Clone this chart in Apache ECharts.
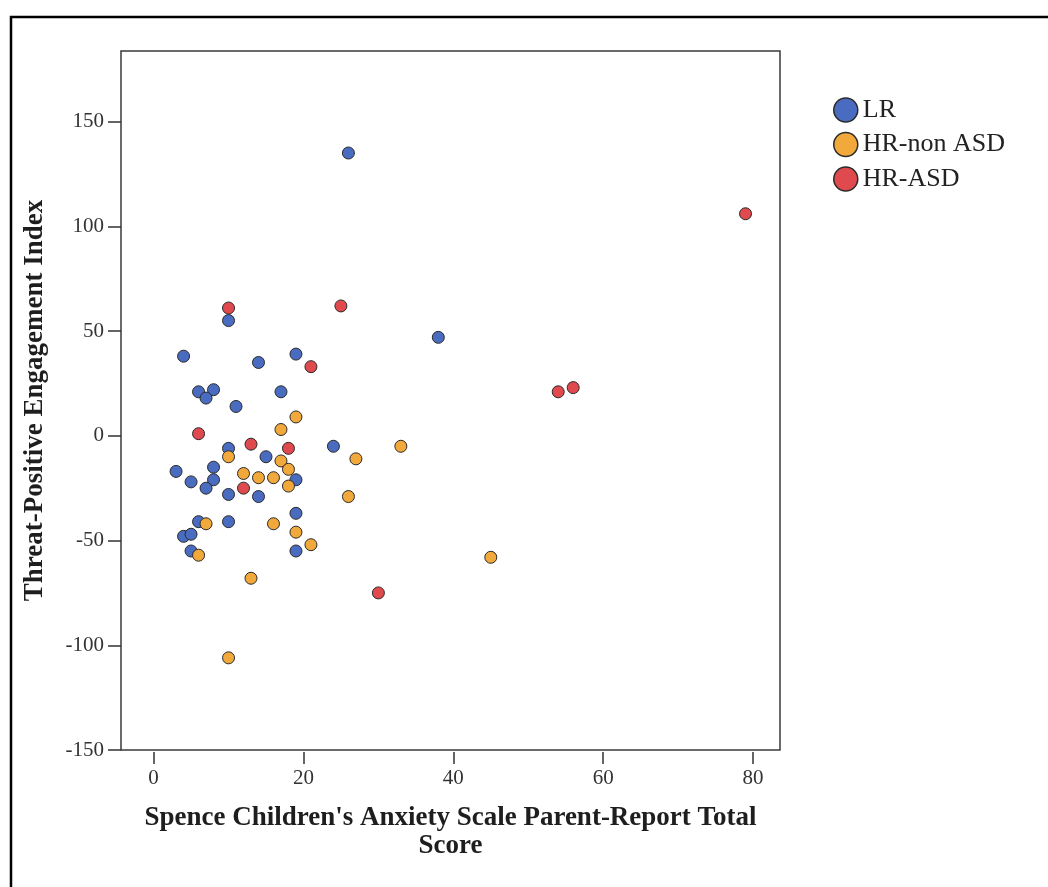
<!DOCTYPE html>
<html>
<head>
<meta charset="utf-8">
<title>Threat-Positive Engagement vs SCAS</title>
<script src="https://cdn.jsdelivr.net/npm/echarts@6/dist/echarts.min.js"></script>
<style>
  html, body { margin: 0; padding: 0; background: #fff; }
  #chart { width: 1048px; height: 887px; }
</style>
</head>
<body>
<div id="chart"></div>
<script>
// Group names as shown in the legend
const groupNames = ['LR', 'HR-non ASD', 'HR-ASD'];

// LR group: SCAS parent-report total (x) and threat-positive engagement index (y)
const lrX = [26, 38, 10, 4, 14, 19, 6, 8, 7, 17, 11, 10, 3, 8, 5, 8, 7, 10, 14, 15, 19, 24, 19, 6, 10, 4, 5, 5, 19];
const lrY = [135, 47, 55, 38, 35, 39, 21, 22, 18, 21, 14, -6, -17, -15, -22, -21, -25, -28, -29, -10, -21, -5, -37, -41, -41, -48, -47, -55, -55];

// HR-non ASD group
const hrNonX = [10, 12, 14, 19, 17, 17, 18, 16, 18, 7, 16, 19, 21, 6, 13, 10, 33, 27, 26, 45];
const hrNonY = [-10, -18, -20, 9, 3, -12, -16, -20, -24, -42, -42, -46, -52, -57, -68, -106, -5, -11, -29, -58];

// HR-ASD group
const hrAsdX = [6, 13, 12, 18, 10, 21, 25, 79, 54, 56, 30];
const hrAsdY = [1, -4, -25, -6, 61, 33, 62, 106, 21, 23, -75];

// Axis tick values
const xTicks = [0, 20, 40, 60, 80];
const yTicks = [-150, -100, -50, 0, 50, 100, 150];

const groupColors = ['#4A6CC0', '#F2A93B', '#E04A4E'];
const serif = "'Liberation Serif', 'Times New Roman', serif";

function pairs(xs, ys) {
  return xs.map((x, i) => [x, ys[i]]);
}

const groups = [
  pairs(lrX, lrY),
  pairs(hrNonX, hrNonY),
  pairs(hrAsdX, hrAsdY)
];

const chart = echarts.init(document.getElementById('chart'), null, { renderer: 'canvas' });

chart.setOption({
  backgroundColor: '#ffffff',
  animation: false,
  textStyle: { fontFamily: serif },
  graphic: [
    {
      // outer figure frame (only its top and left edges fall inside the page)
      type: 'rect',
      z: -10,
      silent: true,
      shape: { x: 11, y: 17, width: 2000, height: 2000 },
      style: { fill: 'none', stroke: '#000', lineWidth: 2.5 }
    }
  ],
  grid: {
    left: 121,
    top: 51,
    width: 659,
    height: 699,
    show: true,
    borderColor: '#3a3a3a',
    borderWidth: 1.5,
    backgroundColor: 'transparent'
  },
  legend: {
    orient: 'vertical',
    left: 828,
    top: 92,
    itemWidth: 24,
    itemHeight: 24,
    itemGap: 8.5,
    icon: 'circle',
    data: groupNames,
    itemStyle: { borderColor: '#2a2a2a', borderWidth: 1.5 },
    textStyle: { fontFamily: serif, fontSize: 26, color: '#222' }
  },
  xAxis: {
    type: 'value',
    min: -4.35,
    max: 83.6,
    offset: 2,
    name: "Spence Children's Anxiety Scale Parent-Report Total\nScore",
    nameLocation: 'middle',
    nameGap: 52,
    nameTextStyle: {
      fontFamily: serif,
      fontSize: 27,
      fontWeight: 'bold',
      color: '#1e1e1e',
      lineHeight: 28
    },
    axisLine: { show: false, onZero: false },
    axisTick: {
      show: true,
      length: 12,
      customValues: xTicks,
      lineStyle: { color: '#333', width: 1.5 }
    },
    axisLabel: {
      customValues: xTicks,
      margin: 16,
      fontFamily: serif,
      fontSize: 21,
      color: '#333'
    },
    splitLine: { show: false }
  },
  yAxis: {
    type: 'value',
    min: -150,
    max: 183.7,
    name: 'Threat-Positive Engagement Index',
    nameLocation: 'middle',
    nameRotate: 90,
    nameGap: 72,
    nameTextStyle: {
      fontFamily: serif,
      fontSize: 27,
      fontWeight: 'bold',
      color: '#1e1e1e'
    },
    axisLine: { show: false, onZero: false },
    axisTick: {
      show: true,
      length: 13,
      customValues: yTicks,
      lineStyle: { color: '#333', width: 1.5 }
    },
    axisLabel: {
      customValues: yTicks,
      margin: 17,
      fontFamily: serif,
      fontSize: 21,
      color: '#333'
    },
    splitLine: { show: false }
  },
  series: groups.map((data, i) => ({
    name: groupNames[i],
    type: 'scatter',
    data: data,
    symbol: 'circle',
    symbolSize: 12,
    itemStyle: {
      color: groupColors[i],
      borderColor: '#2a2a2a',
      borderWidth: 1,
      opacity: 1
    }
  }))
});
</script>
</body>
</html>
